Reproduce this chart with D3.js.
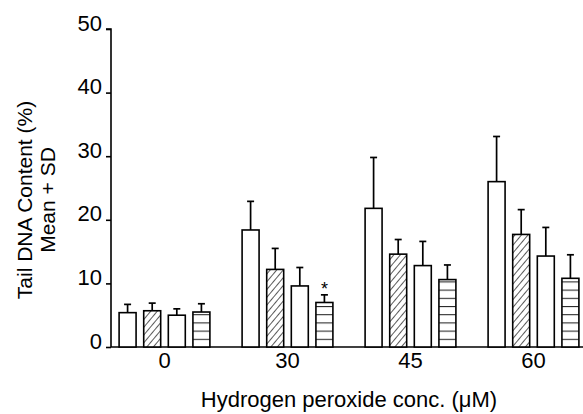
<!DOCTYPE html>
<html><head><meta charset="utf-8">
<script src="https://cdn.jsdelivr.net/npm/d3@7"></script>
<style>body{margin:0;background:#fff}svg{display:block}text{font-family:"Liberation Sans",Arial,sans-serif;fill:#000}</style>
</head><body>
<svg id="c" width="583" height="414"></svg>
<script>
const categories = ["0", "30", "45", "60"];
const seriesNames = ["A", "B", "C", "D"];
const meanA = [5.4, 18.4, 21.8, 26.0];
const meanB = [5.7, 12.2, 14.6, 17.7];
const meanC = [5.0, 9.6, 12.8, 14.3];
const meanD = [5.5, 7.0, 10.6, 10.8];
const sdA = [1.3, 4.5, 8.0, 7.1];
const sdB = [1.2, 3.3, 2.3, 3.9];
const sdC = [1.0, 2.9, 3.8, 4.5];
const sdD = [1.3, 1.2, 2.3, 3.7];
const yTicks = [0, 10, 20, 30, 40, 50];
const starMarks = [{cat: "30", series: "D"}];

const means = [meanA, meanB, meanC, meanD];
const sds = [sdA, sdB, sdC, sdD];
const fills = ["#fff", "url(#hatch)", "#fff", "url(#hlines)"];
const data = [];
categories.forEach((c, i) => seriesNames.forEach((s, j) => data.push({cat: c, series: s, mean: means[j][i], sd: sds[j][i], fill: fills[j]})));

const svg = d3.select("#c");
const defs = svg.append("defs");
const h = defs.append("pattern").attr("id", "hatch").attr("patternUnits", "userSpaceOnUse")
  .attr("width", 5).attr("height", 5).attr("patternTransform", "rotate(40)");
h.append("rect").attr("width", 5).attr("height", 5).attr("fill", "#fff");
h.append("line").attr("x1", 0).attr("y1", 0).attr("x2", 0).attr("y2", 5).attr("stroke", "#000").attr("stroke-width", 1.3);
const hl = defs.append("pattern").attr("id", "hlines").attr("patternUnits", "userSpaceOnUse")
  .attr("width", 8).attr("height", 8.2).attr("y", 347);
hl.append("rect").attr("width", 8).attr("height", 8.2).attr("fill", "#fff");
hl.append("line").attr("x1", 0).attr("y1", 0.5).attr("x2", 8).attr("y2", 0.5).attr("stroke", "#222").attr("stroke-width", 1.1);

const x0 = d3.scaleBand().domain(categories).range([103, 595]).padding(0);
const x1 = d3.scaleBand().domain(seriesNames).range([-45.4, 45.4]).paddingInner(0.31).paddingOuter(0);
const y = d3.scaleLinear().domain([0, 50]).range([347, 29]);
const cx = d => x0(d.cat) + x0.bandwidth() / 2 + x1(d.series);

// y axis
const yAxis = d3.axisLeft(y).tickValues(yTicks).tickSize(5).tickPadding(6);
const ya = svg.append("g").attr("transform", "translate(111,0)").call(yAxis);
ya.select(".domain").attr("stroke", "#000").attr("stroke-width", 1.6).attr("d", `M-5,${y(50)}H0V${y(0)}`);
ya.selectAll(".tick line").attr("stroke", "#000").attr("stroke-width", 1.6);
ya.selectAll(".tick text").attr("font-size", 22).attr("font-family", "Liberation Sans, Arial, sans-serif").attr("dy", "0.05em").attr("x", -9);

// x axis
const xAxis = d3.axisBottom(x0).tickSize(0).tickPadding(5);
const xa = svg.append("g").attr("transform", `translate(0,${y(0)})`).call(xAxis);
xa.select(".domain").attr("stroke", "#000").attr("stroke-width", 1.6).attr("d", `M111,0H583`);
xa.selectAll(".tick text").attr("font-size", 22).attr("font-family", "Liberation Sans, Arial, sans-serif").attr("dy", "0.72em");

// bars
svg.append("g").selectAll("rect").data(data).join("rect")
  .attr("x", d => cx(d)).attr("width", x1.bandwidth())
  .attr("y", d => y(d.mean)).attr("height", d => y(0) - y(d.mean))
  .attr("fill", d => d.fill).attr("stroke", "#000").attr("stroke-width", 1.6);

// error bars
const eb = svg.append("g").attr("stroke", "#000").attr("stroke-width", 1.7);
eb.selectAll("line.v").data(data).join("line").attr("class", "v")
  .attr("x1", d => cx(d) + x1.bandwidth() / 2).attr("x2", d => cx(d) + x1.bandwidth() / 2)
  .attr("y1", d => y(d.mean)).attr("y2", d => y(d.mean + d.sd));
eb.selectAll("line.c").data(data).join("line").attr("class", "c")
  .attr("x1", d => cx(d) + x1.bandwidth() / 2 - 3.5).attr("x2", d => cx(d) + x1.bandwidth() / 2 + 3.5)
  .attr("y1", d => y(d.mean + d.sd)).attr("y2", d => y(d.mean + d.sd));

// asterisk
svg.append("g").selectAll("text").data(starMarks).join("text")
  .attr("x", d => { const r = data.find(e => e.cat === d.cat && e.series === d.series); return cx(r) + x1.bandwidth() / 2; })
  .attr("y", d => { const r = data.find(e => e.cat === d.cat && e.series === d.series); return y(r.mean + r.sd) - 11; })
  .attr("text-anchor", "middle").attr("font-size", 18).attr("dy", "0.6em").text("*");

// titles
svg.append("text").attr("x", 349).attr("y", 407).attr("text-anchor", "middle").attr("font-size", 22).text("Hydrogen peroxide conc. (\u03BCM)");
const yt = svg.append("text").attr("transform", "translate(0,200) rotate(-90)").attr("text-anchor", "middle").attr("font-size", 21);
yt.append("tspan").attr("x", 0).attr("y", 32).text("Tail DNA Content (%)");
yt.append("tspan").attr("x", 0).attr("y", 55).text("Mean + SD");
</script>
</body></html>
